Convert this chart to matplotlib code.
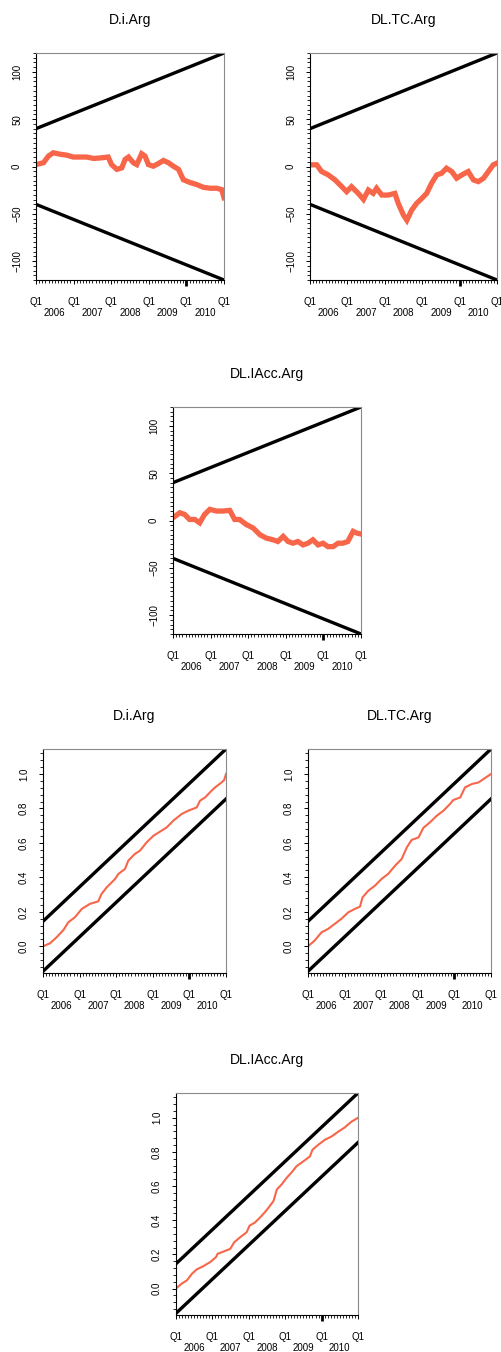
import matplotlib
matplotlib.use("Agg")
import matplotlib.pyplot as plt
from matplotlib.ticker import FixedLocator, MultipleLocator, FuncFormatter

plt.rcParams['font.family'] = ['Liberation Sans', 'DejaVu Sans']

W, H = 501, 1352
RED = '#F8664A'

# time span of the tests (years)
start_year, end_year = 2006, 2011
year_starts = [2006, 2007, 2008, 2009, 2010, 2011]

# OLS-CUSUM processes
di_t = [2006.0, 2006.20, 2006.33, 2006.46, 2006.64, 2006.82, 2006.99, 2007.17, 2007.35,
        2007.53, 2007.70, 2007.92, 2008.01, 2008.15, 2008.28, 2008.37, 2008.46, 2008.59,
        2008.68, 2008.81, 2008.90, 2008.99, 2009.12, 2009.25, 2009.39, 2009.52, 2009.65,
        2009.79, 2009.92, 2010.10, 2010.27, 2010.45, 2010.63, 2010.81, 2010.94, 2011.0]
di_v = [2, 4, 11, 14.5, 13, 12, 10, 10, 10, 8.5, 9, 10, 2, -3, -1.5, 7.5, 10, 4, 2,
        13.5, 11, 2, 0.3, 3, 6.4, 4, 0.4, -3, -14, -17, -19, -22, -23, -23, -24.5, -33]

tc_t = [2006.0, 2006.18, 2006.31, 2006.49, 2006.67, 2006.85, 2006.98, 2007.11, 2007.29,
        2007.43, 2007.56, 2007.69, 2007.78, 2007.92, 2008.09, 2008.27, 2008.36, 2008.50,
        2008.59, 2008.72, 2008.85, 2008.99, 2009.12, 2009.25, 2009.39, 2009.52, 2009.65,
        2009.79, 2009.92, 2010.06, 2010.23, 2010.37, 2010.50, 2010.64, 2010.77, 2010.90, 2011.0]
tc_v = [1.8, 1.8, -5.3, -8.9, -14.2, -21.3, -26.6, -21.3, -28.4, -34.8, -24.9, -28.4, -23,
        -30.2, -30.2, -28.4, -39, -51.5, -56.8, -46, -39, -33.7, -28.4, -17.8, -8.9, -7.1,
        -1.8, -5.3, -12.4, -8.9, -5.3, -14.2, -16, -12.4, -5.3, 1.8, 3.6]

iacc_t = [2006.0, 2006.18, 2006.31, 2006.44, 2006.58, 2006.71, 2006.84, 2006.98, 2007.15,
          2007.33, 2007.51, 2007.64, 2007.77, 2007.95, 2008.13, 2008.31, 2008.48, 2008.66,
          2008.79, 2008.93, 2009.06, 2009.19, 2009.32, 2009.46, 2009.59, 2009.72, 2009.86,
          2009.99, 2010.12, 2010.26, 2010.39, 2010.52, 2010.65, 2010.79, 2010.88, 2011.0]
iacc_v = [2.9, 8.2, 6.4, 1.1, 1.1, -2.5, 6.4, 11.8, 10, 10, 10.7, 1.1, 1.1, -4.3, -7.9, -15,
          -18.6, -20.4, -22.2, -16.8, -22.2, -24, -22.2, -25.8, -24, -20.4, -25.8, -24,
          -27.6, -27.6, -24, -24, -22.2, -11.5, -13.2, -14.3]

# CUSUM-of-squares processes
di_sq_t = [2006.0, 2006.19, 2006.37, 2006.56, 2006.69, 2006.87, 2007.06, 2007.28, 2007.51,
           2007.60, 2007.74, 2007.97, 2008.06, 2008.24, 2008.33, 2008.51, 2008.65, 2008.83,
           2009.02, 2009.24, 2009.38, 2009.56, 2009.79, 2009.97, 2010.20, 2010.29, 2010.43,
           2010.56, 2010.70, 2010.88, 2010.95, 2011.0]
di_sq_v = [0.0, 0.017, 0.052, 0.095, 0.139, 0.168, 0.217, 0.246, 0.261, 0.304, 0.342, 0.391,
           0.420, 0.449, 0.497, 0.536, 0.555, 0.603, 0.642, 0.671, 0.690, 0.729, 0.768, 0.787,
           0.806, 0.845, 0.864, 0.893, 0.922, 0.951, 0.965, 1.0]

tc_sq_t = [2006.0, 2006.18, 2006.37, 2006.55, 2006.73, 2006.91, 2007.10, 2007.28, 2007.42,
           2007.49, 2007.65, 2007.83, 2008.01, 2008.19, 2008.38, 2008.56, 2008.70, 2008.83,
           2009.02, 2009.15, 2009.33, 2009.52, 2009.70, 2009.88, 2009.97, 2010.16, 2010.29,
           2010.48, 2010.66, 2010.84, 2011.0]
tc_sq_v = [0.0, 0.033, 0.081, 0.101, 0.130, 0.159, 0.197, 0.217, 0.230, 0.284, 0.323, 0.352,
           0.391, 0.420, 0.468, 0.507, 0.574, 0.617, 0.632, 0.687, 0.719, 0.758, 0.787, 0.826,
           0.849, 0.864, 0.922, 0.942, 0.951, 0.977, 1.0]

iacc_sq_t = [2006.0, 2006.16, 2006.30, 2006.44, 2006.57, 2006.76, 2006.94, 2007.10, 2007.14,
             2007.31, 2007.49, 2007.60, 2007.76, 2007.94, 2008.02, 2008.17, 2008.31, 2008.45,
             2008.58, 2008.68, 2008.77, 2008.90, 2009.04, 2009.18, 2009.31, 2009.50, 2009.68,
             2009.75, 2009.91, 2010.09, 2010.27, 2010.46, 2010.64, 2010.82, 2011.0]
iacc_sq_v = [0.0, 0.029, 0.048, 0.087, 0.112, 0.132, 0.155, 0.184, 0.203, 0.217, 0.232, 0.271,
             0.300, 0.329, 0.368, 0.387, 0.416, 0.449, 0.484, 0.513, 0.580, 0.609, 0.648,
             0.681, 0.716, 0.745, 0.774, 0.813, 0.842, 0.871, 0.890, 0.919, 0.944, 0.977, 1.0]

# 5% boundaries: CUSUM bound at start/end, CUSUM-of-squares critical shift
cusum_bound = [40, 120]
sq_path = [0.0, 1.0]
sq_crit = 0.145

fig = plt.figure(figsize=(W / 100, H / 100), dpi=100)


def panel(left, right, top, bottom):
    return fig.add_axes([left / W, 1 - bottom / H, (right - left) / W, (bottom - top) / H])


def year_label(v, pos):
    if abs(v - int(v) - 0.5) < 1e-6:
        return str(int(v))
    return ''


def style(ax, title, ylim, major, minor):
    ax.set_xlim(start_year, end_year)
    ax.set_ylim(*ylim)
    ax.xaxis.set_major_locator(FixedLocator(year_starts))
    ax.xaxis.set_major_formatter(FuncFormatter(lambda v, p: 'Q1'))
    ax.xaxis.set_minor_locator(FixedLocator([start_year + k / 12 for k in range(61)]))
    ax.xaxis.set_minor_formatter(FuncFormatter(year_label))
    ax.tick_params(axis='x', which='major', length=3, width=0.7, pad=9.5, labelsize=7)
    ax.tick_params(axis='x', which='minor', length=2.5, width=0.6, pad=18, labelsize=7)
    ax.yaxis.set_major_locator(MultipleLocator(major))
    ax.yaxis.set_minor_locator(MultipleLocator(minor))
    ax.tick_params(axis='y', which='major', length=3, width=0.7, pad=7, labelsize=7,
                   labelrotation=90)
    ax.tick_params(axis='y', which='minor', length=2, width=0.6)
    for lab in ax.get_yticklabels():
        lab.set_verticalalignment('center')
    ax.xaxis.get_major_ticks()[4].tick1line.set_markeredgewidth(2.0)
    ax.xaxis.get_major_ticks()[4].tick1line.set_markersize(4)
    for side in ('top', 'right'):
        ax.spines[side].set_color('#8a8a8a')
        ax.spines[side].set_linewidth(0.8)
    for side in ('left', 'bottom'):
        ax.spines[side].set_linewidth(0.8)
    ax.set_title(title, fontsize=10, pad=21)


cusum_panels = [
    ('D.i.Arg', di_t, di_v, (36, 224, 53, 280)),
    ('DL.TC.Arg', tc_t, tc_v, (310, 497, 53, 280)),
    ('DL.IAcc.Arg', iacc_t, iacc_v, (173, 361, 407, 634)),
]
for title, t, v, box in cusum_panels:
    ax = panel(*box)
    ax.plot(t, v, color=RED, lw=3.8, solid_joinstyle='miter')
    ax.plot([start_year, end_year], cusum_bound, color='black', lw=2.4)
    ax.plot([start_year, end_year], [-b for b in cusum_bound], color='black', lw=2.4)
    style(ax, title, (-120, 120), 50, 5)

sq_panels = [
    ('D.i.Arg', di_sq_t, di_sq_v, (43, 226, 749, 973)),
    ('DL.TC.Arg', tc_sq_t, tc_sq_v, (308, 491, 749, 973)),
    ('DL.IAcc.Arg', iacc_sq_t, iacc_sq_v, (176, 358, 1093, 1315)),
]
for title, t, v, box in sq_panels:
    ax = panel(*box)
    ax.plot(t, v, color=RED, lw=1.5)
    ax.plot([start_year, end_year], [s + sq_crit for s in sq_path], color='black', lw=2.4)
    ax.plot([start_year, end_year], [s - sq_crit for s in sq_path], color='black', lw=2.4)
    style(ax, title, (-0.155, 1.145), 0.2, 0.04)

fig.savefig('out.png', dpi=100)
